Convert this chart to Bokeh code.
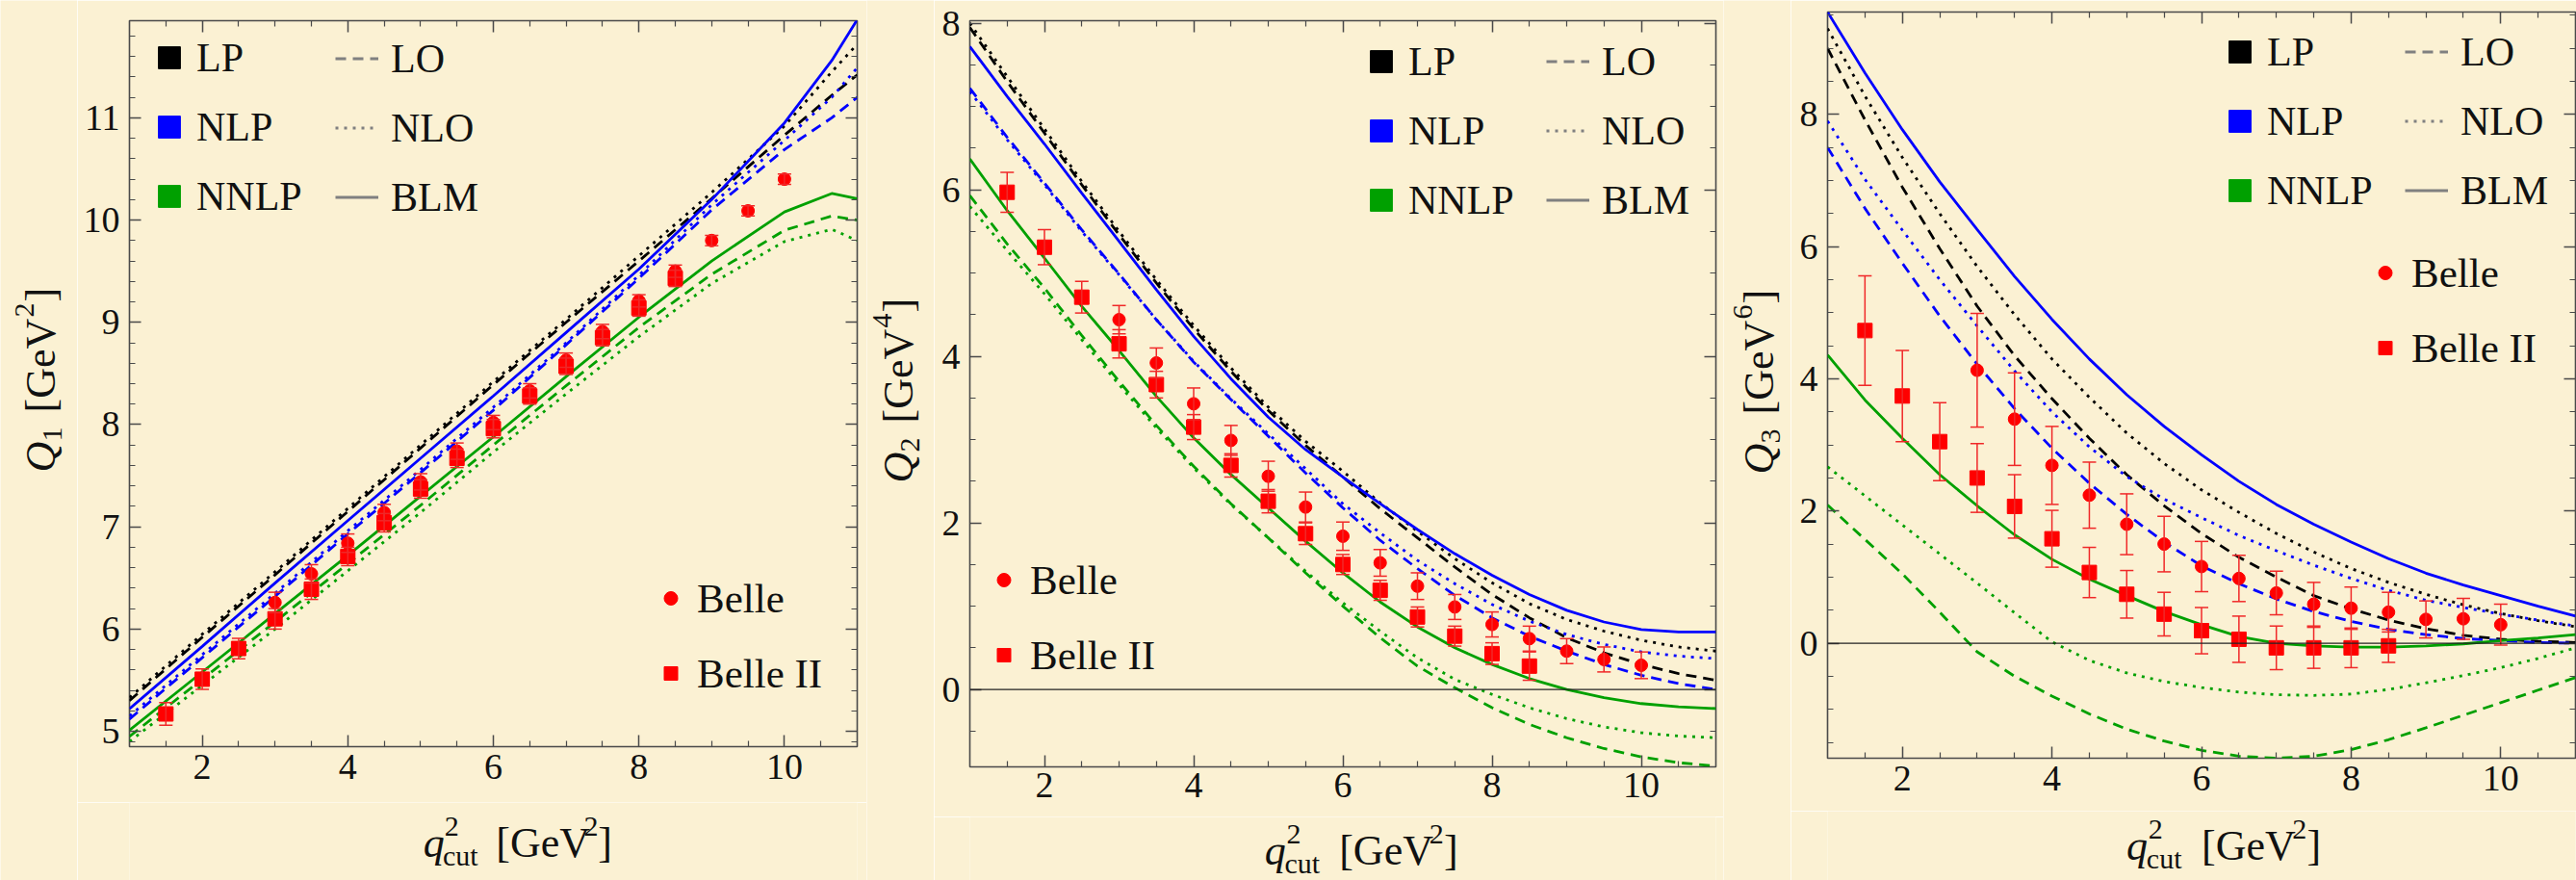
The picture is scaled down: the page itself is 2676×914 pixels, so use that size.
from math import pi
from bokeh.plotting import figure
from bokeh.layouts import row, column
from bokeh.models import (FixedTicker, LinearAxis, Range1d, Span, Whisker, TeeHead,
                          ColumnDataSource, Legend, LegendItem)
from bokeh.core.properties import value
from bokeh.embed import file_html
from bokeh.resources import INLINE

# ---------------------------------------------------------------- data
x_q1 = [1, 2, 3, 4, 5, 6, 7, 8, 9, 10, 10.65, 11]
q1_LP_LO = [5.30, 5.92, 6.53, 7.15, 7.77, 8.39, 9.00, 9.60, 10.21, 10.83, 11.22, 11.42]
q1_LP_NLO = [5.33, 5.95, 6.56, 7.18, 7.80, 8.42, 9.03, 9.65, 10.27, 10.92, 11.45, 11.72]
q1_NLP_LO = [5.12, 5.72, 6.32, 6.93, 7.53, 8.14, 8.78, 9.43, 10.10, 10.69, 11.00, 11.20]
q1_NLP_NLO = [5.15, 5.75, 6.35, 6.96, 7.56, 8.17, 8.80, 9.46, 10.15, 10.78, 11.20, 11.49]
q1_NLP_BLM = [5.22, 5.83, 6.45, 7.06, 7.67, 8.28, 8.90, 9.52, 10.20, 10.95, 11.56, 11.96]
q1_NNLP_LO = [4.95, 5.51, 6.07, 6.64, 7.21, 7.80, 8.38, 8.95, 9.47, 9.90, 10.04, 10.00]
q1_NNLP_NLO = [4.90, 5.45, 6.00, 6.57, 7.14, 7.73, 8.30, 8.86, 9.38, 9.79, 9.91, 9.80]
q1_NNLP_BLM = [5.01, 5.58, 6.15, 6.72, 7.30, 7.88, 8.47, 9.05, 9.60, 10.08, 10.26, 10.21]

x_half = [1, 1.5, 2, 2.5, 3, 3.5, 4, 4.5, 5, 5.5, 6, 6.5, 7, 7.5, 8, 8.5, 9, 9.5, 10, 10.5, 11]
q2_LP_LO = [7.95, 7.30, 6.68, 6.06, 5.46, 4.88, 4.33, 3.82, 3.35, 2.93, 2.55, 2.17, 1.82, 1.47, 1.14, 0.86, 0.62, 0.44, 0.30, 0.19, 0.11]
q2_LP_NLO = [8.00, 7.36, 6.73, 6.10, 5.50, 4.92, 4.37, 3.86, 3.39, 2.98, 2.62, 2.24, 1.90, 1.57, 1.28, 1.03, 0.84, 0.70, 0.59, 0.51, 0.46]
q2_NLP_LO = [7.22, 6.63, 6.08, 5.52, 4.99, 4.44, 3.93, 3.48, 3.04, 2.60, 2.18, 1.79, 1.45, 1.13, 0.86, 0.64, 0.46, 0.30, 0.17, 0.07, 0.00]
q2_NLP_NLO = [7.18, 6.60, 6.06, 5.50, 4.98, 4.44, 3.94, 3.49, 3.07, 2.65, 2.23, 1.88, 1.55, 1.27, 1.02, 0.82, 0.66, 0.54, 0.45, 0.40, 0.37]
q2_NLP_BLM = [7.72, 7.12, 6.55, 5.96, 5.38, 4.80, 4.24, 3.73, 3.27, 2.88, 2.55, 2.23, 1.92, 1.63, 1.37, 1.14, 0.95, 0.81, 0.72, 0.69, 0.69]
q2_NNLP_LO = [5.93, 5.35, 4.82, 4.25, 3.70, 3.17, 2.68, 2.23, 1.82, 1.40, 1.00, 0.62, 0.28, 0.02, -0.22, -0.42, -0.58, -0.71, -0.81, -0.88, -0.92]
q2_NNLP_NLO = [5.80, 5.27, 4.75, 4.20, 3.66, 3.14, 2.66, 2.22, 1.82, 1.42, 1.04, 0.70, 0.38, 0.12, -0.06, -0.22, -0.35, -0.45, -0.52, -0.56, -0.58]
q2_NNLP_BLM = [6.37, 5.75, 5.18, 4.60, 4.07, 3.52, 3.02, 2.58, 2.18, 1.78, 1.40, 1.05, 0.75, 0.50, 0.30, 0.13, 0.00, -0.10, -0.17, -0.21, -0.23]

q3_LP_LO = [9.00, 7.92, 6.90, 5.97, 5.10, 4.35, 3.70, 3.10, 2.55, 2.08, 1.66, 1.30, 1.00, 0.72, 0.52, 0.35, 0.22, 0.12, 0.06, 0.03, 0.01]
q3_LP_NLO = [9.30, 8.28, 7.35, 6.50, 5.70, 4.97, 4.30, 3.72, 3.18, 2.72, 2.32, 1.98, 1.66, 1.38, 1.13, 0.92, 0.74, 0.58, 0.45, 0.34, 0.25]
q3_NLP_LO = [7.50, 6.58, 5.75, 4.95, 4.22, 3.55, 2.95, 2.42, 1.95, 1.53, 1.17, 0.90, 0.67, 0.48, 0.33, 0.21, 0.13, 0.07, 0.04, 0.01, 0.00]
q3_NLP_NLO = [7.90, 7.02, 6.25, 5.50, 4.80, 4.12, 3.50, 2.97, 2.52, 2.18, 1.90, 1.63, 1.40, 1.18, 0.98, 0.80, 0.65, 0.54, 0.44, 0.35, 0.26]
q3_NLP_BLM = [9.55, 8.63, 7.77, 6.98, 6.26, 5.55, 4.90, 4.30, 3.76, 3.28, 2.85, 2.45, 2.10, 1.80, 1.53, 1.28, 1.06, 0.88, 0.72, 0.56, 0.41]
q3_NNLP_LO = [2.09, 1.57, 1.05, 0.47, -0.13, -0.50, -0.80, -1.07, -1.30, -1.48, -1.62, -1.71, -1.74, -1.71, -1.61, -1.46, -1.28, -1.09, -0.90, -0.71, -0.52]
q3_NNLP_NLO = [2.67, 2.23, 1.79, 1.35, 0.91, 0.46, 0.02, -0.26, -0.45, -0.58, -0.67, -0.74, -0.78, -0.79, -0.77, -0.70, -0.60, -0.49, -0.37, -0.23, -0.07]
q3_NNLP_BLM = [4.36, 3.68, 3.10, 2.55, 2.08, 1.64, 1.27, 0.97, 0.72, 0.48, 0.28, 0.10, 0.00, -0.04, -0.06, -0.06, -0.04, -0.01, 0.04, 0.08, 0.13]

belle_x = [3, 3.5, 4, 4.5, 5, 5.5, 6, 6.5, 7, 7.5, 8, 8.5, 9, 9.5, 10]
belle2_x = [1.5, 2, 2.5, 3, 3.5, 4, 4.5, 5, 5.5, 6, 6.5, 7, 7.5, 8, 8.5]

belle_q1 = [6.26, 6.54, 6.84, 7.14, 7.44, 7.74, 8.02, 8.33, 8.63, 8.91, 9.21, 9.50, 9.80, 10.09, 10.40]
belle_q1_err = [0.10, 0.09, 0.09, 0.08, 0.08, 0.08, 0.07, 0.07, 0.07, 0.07, 0.06, 0.06, 0.05, 0.05, 0.05]
belle2_q1 = [5.17, 5.51, 5.81, 6.10, 6.39, 6.71, 7.04, 7.37, 7.67, 7.96, 8.28, 8.57, 8.85, 9.14, 9.43]
belle2_q1_err = [0.11, 0.10, 0.10, 0.10, 0.10, 0.09, 0.09, 0.09, 0.09, 0.09, 0.08, 0.08, 0.08, 0.08, 0.08]

belle_q2 = [4.44, 3.92, 3.43, 2.99, 2.56, 2.19, 1.84, 1.52, 1.24, 0.99, 0.78, 0.61, 0.46, 0.36, 0.29]
belle_q2_err = [0.17, 0.18, 0.19, 0.18, 0.18, 0.18, 0.17, 0.16, 0.16, 0.15, 0.15, 0.15, 0.15, 0.15, 0.16]
belle2_q2 = [5.97, 5.31, 4.71, 4.15, 3.66, 3.15, 2.69, 2.26, 1.87, 1.50, 1.19, 0.87, 0.64, 0.43, 0.28]
belle2_q2_err = [0.24, 0.21, 0.19, 0.17, 0.16, 0.15, 0.14, 0.14, 0.13, 0.12, 0.12, 0.12, 0.12, 0.13, 0.17]

belle_q3 = [4.13, 3.39, 2.69, 2.24, 1.80, 1.50, 1.16, 0.98, 0.76, 0.59, 0.53, 0.47, 0.36, 0.37, 0.28]
belle_q3_err = [0.86, 0.70, 0.59, 0.50, 0.46, 0.42, 0.38, 0.35, 0.33, 0.33, 0.32, 0.30, 0.28, 0.31, 0.31]
belle2_q3 = [4.73, 3.74, 3.05, 2.50, 2.07, 1.58, 1.07, 0.74, 0.44, 0.19, 0.06, -0.07, -0.07, -0.07, -0.04]
belle2_q3_err = [0.83, 0.69, 0.59, 0.52, 0.48, 0.43, 0.38, 0.36, 0.33, 0.35, 0.35, 0.33, 0.31, 0.30, 0.25]

x_major = [2, 4, 6, 8, 10]
x_minor = [1.5, 2.5, 3, 3.5, 4.5, 5, 5.5, 6.5, 7, 7.5, 8.5, 9, 9.5, 10.5]
q1_major = [5, 6, 7, 8, 9, 10, 11]
q1_minor = [4.9, 5.2, 5.4, 5.6, 5.8, 6.2, 6.4, 6.6, 6.8, 7.2, 7.4, 7.6, 7.8, 8.2, 8.4, 8.6, 8.8,
            9.2, 9.4, 9.6, 9.8, 10.2, 10.4, 10.6, 10.8, 11.2, 11.4, 11.6, 11.8]
q2_major = [0, 2, 4, 6, 8]
q2_minor = [-0.5, 0.5, 1, 1.5, 2.5, 3, 3.5, 4.5, 5, 5.5, 6.5, 7, 7.5]
q3_major = [0, 2, 4, 6, 8]
q3_minor = [-1.5, -1, -0.5, 0.5, 1, 1.5, 2.5, 3, 3.5, 4.5, 5, 5.5, 6.5, 7, 7.5, 8.5, 9, 9.5]

orders = ["LP", "NLP", "NNLP"]
schemes = ["LO", "NLO", "BLM"]

# ---------------------------------------------------------------- style
BG = "#FBF1D3"
FONT = "Liberation Serif"
FRAME = "#4a4a4a"
TXT = "#111111"
COLORS = {"LP": "#000000", "NLP": "#0000FF", "NNLP": "#00A000"}
DASH = {"LO": "11 7", "NLO": "3 6", "BLM": "solid"}
RED = "#FF0000"
FB, FS = 44, 30          # main / script font sizes (px)
MB, MS = 0.33 * FB, 0.33 * FS   # baseline -> middle offsets
NAN = float("nan")


def style_axis(ax, ticker, labels, standoff):
    ax.ticker = ticker
    ax.axis_line_color = None
    ax.major_tick_in = 12
    ax.major_tick_out = 0
    ax.minor_tick_in = 6
    ax.minor_tick_out = 0
    ax.major_tick_line_color = FRAME
    ax.minor_tick_line_color = FRAME
    ax.major_tick_line_width = 1.5
    ax.minor_tick_line_width = 1.2
    ax.major_label_standoff = standoff
    ax.axis_label = None
    if labels:
        ax.major_label_text_font = FONT
        ax.major_label_text_font_size = "38px"
        ax.major_label_text_color = TXT
    else:
        ax.major_label_text_font_size = "0px"
        ax.major_label_text_alpha = 0


def text_fig(w, h):
    return figure(width=w, height=h, x_range=Range1d(0, w), y_range=Range1d(0, h),
                  output_backend="svg", toolbar_location=None, x_axis_type=None, y_axis_type=None,
                  min_border=0, background_fill_color=BG, border_fill_color=BG,
                  outline_line_color=None)


def put(f, x, y, s, size, italic=False, angle=0.0):
    f.text(x=[x], y=[y], text=[s], text_font=value(FONT), text_font_size=f"{size}px",
           text_font_style="italic" if italic else "normal", text_color=TXT,
           text_align="left", text_baseline="middle", angle=angle)


def xlabel_fig(w, h, x0, yb):
    # yb: baseline height (px from the strip bottom)
    f = text_fig(w, h)
    put(f, x0, yb + MB, "q", FB, italic=True)
    put(f, x0 + 24, yb + 22 + MS, "2", FS)
    put(f, x0 + 22, yb - 8 + MS, "cut", FS)
    x1 = x0 + 82
    put(f, x1, yb + MB, "[GeV", FB)
    put(f, x1 + 99, yb + 22 + MS, "2", FS)
    put(f, x1 + 115, yb + MB, "]", FB)
    return f


def ylabel_fig(w, xb, y0, idx, expo):
    # xb: baseline x (px from strip left); text runs upward from y0
    f = text_fig(w, 914)
    a = pi / 2
    put(f, xb - MB, y0, "Q", FB, italic=True, angle=a)
    put(f, xb + 7 - MS, y0 + 32, idx, FS, angle=a)
    y1 = y0 + 62
    put(f, xb - MB, y1, "[GeV", FB, angle=a)
    put(f, xb - 22 - MS, y1 + 99, expo, FS, angle=a)
    put(f, xb - MB, y1 + 115, "]", FB, angle=a)
    return f


def make_panel(width, height, borders, yr, ymaj, ymin, x_c, curves, b_y, b_e, b2_y, b2_e,
               loc_c, loc_s, loc_b, zero_line, xstandoff=8):
    bl, br, bt, bb = borders
    p = figure(width=width, height=height, x_range=Range1d(1, 11), y_range=Range1d(*yr),
               output_backend="svg", toolbar_location=None,
               min_border_left=bl, min_border_right=br, min_border_top=bt, min_border_bottom=bb,
               background_fill_color=BG, border_fill_color=BG,
               outline_line_color=FRAME, outline_line_width=1.6)
    p.grid.visible = False
    xt = FixedTicker(ticks=x_major, minor_ticks=x_minor)
    yt = FixedTicker(ticks=ymaj, minor_ticks=ymin)
    style_axis(p.xaxis[0], xt, True, xstandoff)
    style_axis(p.yaxis[0], yt, True, 10)
    top = LinearAxis()
    style_axis(top, xt, False, 0)
    p.add_layout(top, "above")
    right = LinearAxis()
    style_axis(right, yt, False, 0)
    p.add_layout(right, "right")

    if zero_line:
        p.add_layout(Span(location=0, dimension="width", line_color="#222222", line_width=1.2))

    for o in orders:
        for s in schemes:
            key = o + "_" + s
            if key in curves:
                p.line(x_c, curves[key], line_color=COLORS[o], line_width=2.8,
                       line_dash=DASH[s], line_cap="butt")

    src_b = ColumnDataSource(dict(x=belle_x, y=b_y,
                                  lo=[v - e for v, e in zip(b_y, b_e)],
                                  hi=[v + e for v, e in zip(b_y, b_e)]))
    src_b2 = ColumnDataSource(dict(x=belle2_x, y=b2_y,
                                   lo=[v - e for v, e in zip(b2_y, b2_e)],
                                   hi=[v + e for v, e in zip(b2_y, b2_e)]))
    for src in (src_b2, src_b):
        p.add_layout(Whisker(base="x", upper="hi", lower="lo", source=src, dimension="height",
                             line_color="#F02828", line_width=1.5, level="glyph",
                             upper_head=TeeHead(size=14, line_color="#F02828", line_width=1.5),
                             lower_head=TeeHead(size=14, line_color="#F02828", line_width=1.5)))
    r_b2 = p.scatter("x", "y", source=src_b2, marker="square", size=15,
                     fill_color=RED, line_color=RED)
    r_b = p.scatter("x", "y", source=src_b, marker="circle", size=13,
                    fill_color=RED, line_color=RED)

    # legend-only renderers (NaN point: nothing drawn in the plot area)
    sq = {o: p.scatter(x=[NAN], y=[NAN], marker="square", size=10, fill_color=COLORS[o],
                       line_color=COLORS[o]) for o in orders}
    ln = {s: p.line(x=[NAN, NAN], y=[NAN, NAN], line_color="#808080", line_width=3,
                    line_dash=DASH[s]) for s in schemes}
    common = dict(padding=0, margin=0, border_line_color=None, background_fill_alpha=0,
                  label_text_font=FONT, label_text_color=TXT, orientation="vertical")
    p.add_layout(Legend(items=[LegendItem(label=value(o), renderers=[sq[o]]) for o in orders],
                        location=loc_c, glyph_width=57, glyph_height=57, label_height=57,
                        label_standoff=-5, spacing=15, label_text_font_size="42px", **common))
    p.add_layout(Legend(items=[LegendItem(label=value(s), renderers=[ln[s]]) for s in schemes],
                        location=loc_s, glyph_width=45, glyph_height=57, label_height=57,
                        label_standoff=13, spacing=15, label_text_font_size="42px", **common))
    p.add_layout(Legend(items=[LegendItem(label=value("Belle"), renderers=[r_b]),
                               LegendItem(label=value("Belle II"), renderers=[r_b2])],
                        location=loc_b, glyph_width=35, glyph_height=52, label_height=52,
                        label_standoff=10, spacing=26, label_text_font_size="43px", **common))
    return p


curves1 = dict(LP_LO=q1_LP_LO, LP_NLO=q1_LP_NLO, NLP_LO=q1_NLP_LO, NLP_NLO=q1_NLP_NLO,
               NLP_BLM=q1_NLP_BLM, NNLP_LO=q1_NNLP_LO, NNLP_NLO=q1_NNLP_NLO, NNLP_BLM=q1_NNLP_BLM)
curves2 = dict(LP_LO=q2_LP_LO, LP_NLO=q2_LP_NLO, NLP_LO=q2_NLP_LO, NLP_NLO=q2_NLP_NLO,
               NLP_BLM=q2_NLP_BLM, NNLP_LO=q2_NNLP_LO, NNLP_NLO=q2_NNLP_NLO, NNLP_BLM=q2_NNLP_BLM)
curves3 = dict(LP_LO=q3_LP_LO, LP_NLO=q3_LP_NLO, NLP_LO=q3_NLP_LO, NLP_NLO=q3_NLP_NLO,
               NLP_BLM=q3_NLP_BLM, NNLP_LO=q3_NNLP_LO, NNLP_NLO=q3_NNLP_NLO, NNLP_BLM=q3_NNLP_BLM)

# panel 1: y-label strip 80 px, plot 820 px wide (frame x 134..890, y 21..775)
p1 = make_panel(820, 833, (54, 10, 21, 58), (4.85, 11.95), q1_major, q1_minor, x_q1, curves1,
                belle_q1, belle_q1_err, belle2_q1, belle2_q1_err,
                (13, 543), (214, 542), (545, 50), False)
yl1 = ylabel_fig(80, 57, 424, "1", "2")
xl1 = xlabel_fig(820, 81, 331, 24)

# panel 2: strip 70 px, plot 820 px (frame x 1007..1782, y 21..796)
p2 = make_panel(820, 848, (37, 8, 21, 52), (-0.93, 8.03), q2_major, q2_minor, x_half, curves2,
                belle_q2, belle_q2_err, belle2_q2, belle2_q2_err,
                (399, 560), (599, 560), (18, 90), True, xstandoff=6)
yl2 = ylabel_fig(70, 48, 413, "2", "4")
xl2 = xlabel_fig(820, 66, 324, 16)

# panel 3: strip 70 px, plot 816 px (frame x 1898..2675, y 12..787)
p3 = make_panel(816, 842, (38, 1, 12, 55), (-1.74, 9.55), q3_major, q3_minor, x_half, curves3,
                belle_q3, belle_q3_err, belle2_q3, belle2_q3_err,
                (400, 561), (600, 561), (562, 400), True)
yl3 = ylabel_fig(70, 52, 422, "3", "6")
xl3 = xlabel_fig(816, 72, 326, 21)

layout = row(yl1, column(p1, xl1, spacing=0), yl2, column(p2, xl2, spacing=0),
             yl3, column(p3, xl3, spacing=0), spacing=0)
html = file_html(layout, INLINE, title="Q moments")
with open("out.html", "w") as fh_:
    fh_.write(html)
